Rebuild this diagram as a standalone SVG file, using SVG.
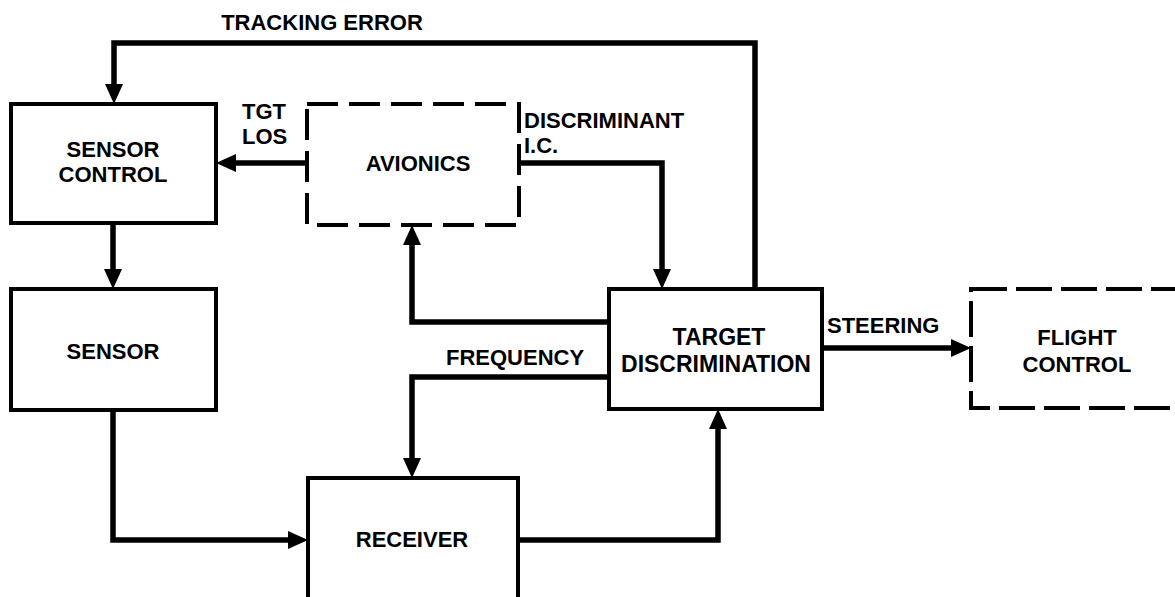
<svg xmlns="http://www.w3.org/2000/svg" width="1175" height="597" viewBox="0 0 1175 597">
  <style>
    .box { fill: none; stroke: #000; stroke-width: 4; }
    .dash { stroke-dasharray: 31 11; }
    .dash2 { stroke-dasharray: 36 9; }
    .wire { fill: none; stroke: #000; stroke-width: 5.5; stroke-linejoin: miter; }
    text { font-family: "Liberation Sans", Arial, sans-serif; font-weight: bold; font-size: 22px; fill: #000; }
    .c { text-anchor: middle; }
  </style>
  <defs>
    <marker id="arrow" markerUnits="userSpaceOnUse" markerWidth="20" markerHeight="18" refX="8" refY="9" orient="auto">
      <path d="M0,0 L20,9 L0,18 z" fill="#000"/>
    </marker>
  </defs>
  <rect width="1175" height="597" fill="#fff"/>

  <!-- connectors -->
  <g id="connectors">
    <path class="wire" d="M755,289 V43 H114 V92" marker-end="url(#arrow)"/>
    <path class="wire" d="M307,163 H228" marker-end="url(#arrow)"/>
    <path class="wire" d="M519,163 H662 V277" marker-end="url(#arrow)"/>
    <path class="wire" d="M113,223 V277" marker-end="url(#arrow)"/>
    <path class="wire" d="M609,322 H412 V237" marker-end="url(#arrow)"/>
    <path class="wire" d="M609,377 H412 V466" marker-end="url(#arrow)"/>
    <path class="wire" d="M113,410 V540 H296" marker-end="url(#arrow)"/>
    <path class="wire" d="M518,540 H718 V421" marker-end="url(#arrow)"/>
    <path class="wire" d="M822,348 H959" marker-end="url(#arrow)"/>
    <text x="322" y="30" class="c">TRACKING ERROR</text>
    <text x="242" y="119">TGT</text>
    <text x="242" y="144">LOS</text>
    <text x="524" y="128">DISCRIMINANT</text>
    <text x="524" y="153">I.C.</text>
    <text x="446" y="365">FREQUENCY</text>
    <text x="827" y="333">STEERING</text>
  </g>

  <g id="sensor-control">
    <rect class="box" x="11" y="104" width="205" height="119"/>
    <text x="113" y="157" class="c">SENSOR</text>
    <text x="113" y="182" class="c">CONTROL</text>
  </g>

  <g id="avionics">
    <rect class="box dash" x="307" y="104" width="212" height="121"/>
    <text x="418" y="171" class="c">AVIONICS</text>
  </g>

  <g id="sensor">
    <rect class="box" x="11" y="289" width="205" height="121"/>
    <text x="113" y="359" class="c">SENSOR</text>
  </g>

  <g id="target-discrimination">
    <rect class="box" x="609" y="289" width="213" height="120"/>
    <text x="719" y="345" class="c" style="font-size:23px">TARGET</text>
    <text x="716" y="372" class="c" style="font-size:23px">DISCRIMINATION</text>
  </g>

  <g id="flight-control">
    <rect class="box dash2" x="971" y="289" width="220" height="119"/>
    <text x="1077" y="345" class="c">FLIGHT</text>
    <text x="1077" y="372" class="c">CONTROL</text>
  </g>

  <g id="receiver">
    <rect class="box" x="308" y="478" width="210" height="140"/>
    <text x="412" y="547" class="c">RECEIVER</text>
  </g>
</svg>
